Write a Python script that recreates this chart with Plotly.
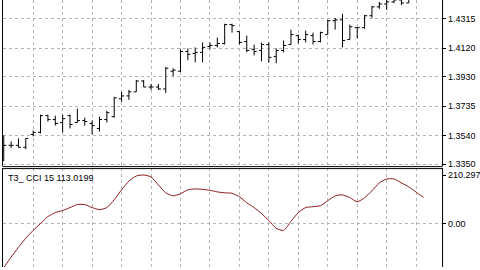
import plotly.graph_objects as go

# ---------------- data ----------------
bar_index = list(range(58))
open_ = [1.3456, 1.3475, 1.3475, 1.3462, 1.3547, 1.3561, 1.3672, 1.3646, 1.3626, 1.3672,
         1.3626, 1.3639, 1.3620, 1.3587, 1.3646, 1.3665, 1.3784, 1.3803, 1.3830, 1.3902,
         1.3862, 1.3862, 1.3849, 1.3967, 1.3967, 1.4098, 1.4085, 1.4092, 1.4131, 1.4138,
         1.4151, 1.4276, 1.4230, 1.4164, 1.4112, 1.4105, 1.4144, 1.4065, 1.4105, 1.4144,
         1.4203, 1.4177, 1.4203, 1.4164, 1.4210, 1.4302, 1.4308, 1.4177, 1.4256, 1.4256,
         1.4335, 1.4394, 1.4413, 1.4427, 1.4440, 1.4420, 1.4459, 1.4492]
high = [1.3541, 1.3501, 1.3521, 1.3521, 1.3574, 1.3679, 1.3679, 1.3672, 1.3679, 1.3679,
        1.3718, 1.3659, 1.3639, 1.3665, 1.3705, 1.3797, 1.3830, 1.3843, 1.3908, 1.3908,
        1.3882, 1.3882, 1.3994, 1.3987, 1.4112, 1.4118, 1.4125, 1.4158, 1.4158, 1.4190,
        1.4282, 1.4282, 1.4230, 1.4203, 1.4144, 1.4158, 1.4158, 1.4118, 1.4171, 1.4243,
        1.4210, 1.4236, 1.4223, 1.4230, 1.4308, 1.4321, 1.4348, 1.4276, 1.4262, 1.4341,
        1.4400, 1.4427, 1.4459, 1.4459, 1.4453, 1.4466, 1.4518, 1.4538]
low = [1.3370, 1.3456, 1.3462, 1.3449, 1.3534, 1.3554, 1.3633, 1.3606, 1.3561, 1.3587,
       1.3626, 1.3606, 1.3547, 1.3567, 1.3626, 1.3659, 1.3764, 1.3777, 1.3830, 1.3862,
       1.3843, 1.3843, 1.3823, 1.3934, 1.3961, 1.4039, 1.4026, 1.4026, 1.4112, 1.4125,
       1.4144, 1.4223, 1.4144, 1.4092, 1.4072, 1.4033, 1.4026, 1.4020, 1.4092, 1.4144,
       1.4151, 1.4158, 1.4144, 1.4158, 1.4210, 1.4243, 1.4125, 1.4177, 1.4184, 1.4249,
       1.4321, 1.4381, 1.4374, 1.4420, 1.4407, 1.4420, 1.4459, 1.4472]
close = [1.3475, 1.3475, 1.3462, 1.3521, 1.3561, 1.3672, 1.3646, 1.3620, 1.3652, 1.3613,
         1.3639, 1.3633, 1.3606, 1.3646, 1.3692, 1.3790, 1.3803, 1.3830, 1.3902, 1.3862,
         1.3862, 1.3849, 1.3987, 1.3974, 1.4098, 1.4079, 1.4092, 1.4125, 1.4138, 1.4151,
         1.4276, 1.4269, 1.4158, 1.4105, 1.4098, 1.4144, 1.4059, 1.4105, 1.4138, 1.4210,
         1.4177, 1.4210, 1.4164, 1.4223, 1.4302, 1.4308, 1.4171, 1.4262, 1.4256, 1.4335,
         1.4394, 1.4413, 1.4427, 1.4440, 1.4420, 1.4446, 1.4492, 1.4505]
cci = [-192, -146, -103, -64, -30, 0, 30, 47, 56, 69,
       82, 82, 69, 60, 69, 103, 146, 184, 206, 210.297,
       202, 167, 133, 120, 129, 146, 150, 148, 144, 137,
       133, 131, 116, 90, 69, 43, 13, -21, -30, 9,
       47, 69, 73, 77, 99, 120, 124, 112, 94, 112,
       142, 176, 193, 193, 176, 159, 136, 113.0199]

price_ticks = [1.3350, 1.3540, 1.3735, 1.3930, 1.4120, 1.4315]
price_labels = ["1.3350", "1.3540", "1.3735", "1.3930", "1.4120", "1.4315"]
cci_ticks = [0, 210.297]
cci_labels = ["0.00", "210.297"]
indicator_label = "T3_ CCI 15 113.0199"

# ---------------- layout helpers ----------------
W, H = 480, 270
X0, X1 = 3, 443          # plot area left / right (px)
MAIN_BOTTOM = 168        # px
IND_TOP = 170            # px
def px_x(p): return p / W
def px_y(p): return 1 - p / H

GRID = "#b4b4b4"
FONT = dict(family="Liberation Sans, Arial, sans-serif", size=9, color="#000000")

fig = go.Figure()
fig.add_trace(go.Ohlc(
    x=bar_index, open=open_, high=high, low=low, close=close,
    increasing=dict(line=dict(color="#000000", width=1)),
    decreasing=dict(line=dict(color="#000000", width=1)),
    tickwidth=0.35, xaxis="x", yaxis="y", hoverinfo="skip", showlegend=False))
fig.add_trace(go.Scatter(
    x=bar_index, y=cci, mode="lines",
    line=dict(color="#8b1a1a", width=1, shape="spline", smoothing=0.6),
    xaxis="x2", yaxis="y2", hoverinfo="skip", showlegend=False))

xcommon = dict(range=[-0.1, 59.52], domain=[px_x(X0), px_x(X1)], showticklabels=False,
               ticks="", showgrid=True, gridcolor=GRID, griddash="3px,3px", gridwidth=1,
               tick0=0, dtick=4, zeroline=False, showline=False, fixedrange=True)

fig.update_layout(
    width=W, height=H, margin=dict(l=0, r=0, t=0, b=0),
    paper_bgcolor="#ffffff", plot_bgcolor="#ffffff",
    font=FONT, showlegend=False,
    xaxis=dict(**xcommon, anchor="y", rangeslider=dict(visible=False)),
    xaxis2=dict(**xcommon, anchor="y2", matches="x"),
    yaxis=dict(domain=[px_y(MAIN_BOTTOM), 1.0], range=[1.33369, 1.44396], side="right",
               anchor="x", tickvals=price_ticks, ticktext=price_labels,
               showgrid=True, gridcolor=GRID, griddash="3px,3px", gridwidth=1,
               ticks="outside", ticklen=3, tickcolor="#000000", zeroline=False,
               showline=False, tickfont=FONT),
    yaxis2=dict(domain=[0.0, px_y(IND_TOP)], range=[-188.8, 240.2], side="right",
                anchor="x2", tickvals=cci_ticks, ticktext=cci_labels, showgrid=False,
                ticks="outside", ticklen=3, tickcolor="#000000", zeroline=False,
                showline=False, tickfont=FONT),
)

shapes = []
# dashed zero grid line in the indicator pane
shapes.append(dict(type="line", xref="paper", yref="y2", x0=px_x(X0), x1=px_x(X1), y0=0, y1=0,
                   line=dict(color=GRID, width=1, dash="3px,3px"), layer="below"))
# borders
blk = dict(color="#000000", width=1)
shapes += [
    dict(type="line", xref="paper", yref="paper", x0=px_x(X1 + 0.5), x1=px_x(X1 + 0.5), y0=px_y(MAIN_BOTTOM), y1=1, line=blk),
    dict(type="line", xref="paper", yref="paper", x0=px_x(X0 - 0.5), x1=px_x(X1 + 0.5), y0=px_y(MAIN_BOTTOM + 0.5), y1=px_y(MAIN_BOTTOM + 0.5), line=blk),
    dict(type="line", xref="paper", yref="paper", x0=px_x(X0 - 0.5), x1=px_x(X0 - 0.5), y0=px_y(MAIN_BOTTOM), y1=1, line=blk),
    dict(type="line", xref="paper", yref="paper", x0=px_x(X0 - 0.5), x1=px_x(X1 + 0.5), y0=px_y(IND_TOP + 0.5), y1=px_y(IND_TOP + 0.5), line=blk),
    dict(type="line", xref="paper", yref="paper", x0=px_x(X1 + 0.5), x1=px_x(X1 + 0.5), y0=0, y1=px_y(IND_TOP), line=blk),
    dict(type="line", xref="paper", yref="paper", x0=px_x(X0 - 0.5), x1=px_x(X0 - 0.5), y0=0, y1=px_y(IND_TOP), line=blk),
]
fig.update_layout(shapes=shapes)

fig.add_annotation(text=indicator_label, xref="paper", yref="paper", x=px_x(6), y=px_y(180),
                   xanchor="left", yanchor="middle", showarrow=False, font=FONT)

fig.write_html("out.html", config=dict(displayModeBar=False, staticPlot=True))
